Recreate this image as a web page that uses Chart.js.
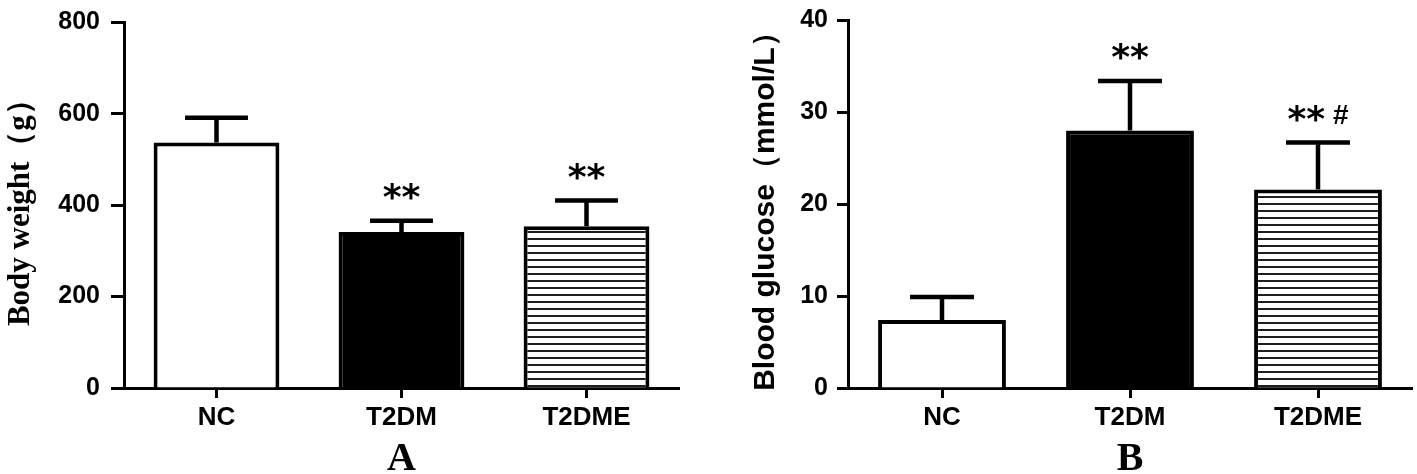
<!DOCTYPE html>
<html>
<head>
<meta charset="utf-8">
<script src="https://cdn.jsdelivr.net/npm/chart.js@4.4.1/dist/chart.umd.min.js"></script>
<style>
  html, body { margin: 0; padding: 0; background: #fff; }
  #wrap { position: relative; width: 1417px; height: 474px; overflow: hidden; }
  #chartA { position: absolute; left: 0; top: 0; }
  #chartB { position: absolute; left: 700px; top: 0; }
</style>
</head>
<body>
<div id="wrap">
  <canvas id="chartA" width="700" height="474"></canvas>
  <canvas id="chartB" width="717" height="474"></canvas>
</div>
<script>
// groups on the x axis
const groups = ['NC', 'T2DM', 'T2DME'];

// panel A - body weight (g), mean and SD
const weightMean = [537, 341, 354];
const weightSD = [54, 25, 56];
const weightMarks = ['', '**', '**'];
const weightTicks = [0, 200, 400, 600, 800];

// panel B - blood glucose (mmol/L), mean and SD
const glucoseMean = [7.4, 28.0, 21.6];
const glucoseSD = [2.5, 5.4, 5.1];
const glucoseMarks = ['', '**', '** #'];
const glucoseTicks = [0, 10, 20, 30, 40];

Chart.defaults.color = '#000';

// horizontal line fill for the T2DME bar
function stripes(canvasId) {
    const c = document.createElement('canvas');
    c.width = 8;
    c.height = 7;
    const g = c.getContext('2d');
    g.fillStyle = '#fff';
    g.fillRect(0, 0, 8, 7);
    g.fillStyle = '#1e1e1e';
    g.fillRect(0, 0, 8, 2);
    return document.getElementById(canvasId).getContext('2d').createPattern(c, 'repeat');
}

// upper error bars plus the significance marks above them
const errorBars = {
    id: 'errorBars',
    afterDatasetsDraw(chart, args, opts) {
        const ctx = chart.ctx;
        const yScale = chart.scales.y;
        const bars = chart.getDatasetMeta(0).data;
        ctx.save();
        ctx.strokeStyle = '#000';
        ctx.fillStyle = '#000';
        ctx.lineWidth = 4.5;
        bars.forEach((bar, i) => {
            const top = yScale.getPixelForValue(opts.mean[i] + opts.sd[i]);
            const half = bar.width / 4;
            ctx.beginPath();
            ctx.moveTo(bar.x, bar.y);
            ctx.lineTo(bar.x, top);
            ctx.moveTo(bar.x - half, top);
            ctx.lineTo(bar.x + half, top);
            ctx.stroke();

            const mark = opts.marks[i];
            if (!mark) return;
            const parts = mark.split(' ');
            const starFont = 'bold 36px "DejaVu Sans"';
            const hashFont = 'bold 28px "Liberation Sans"';
            ctx.font = starFont;
            const wStars = ctx.measureText(parts[0]).width;
            let wHash = 0;
            const gap = 8;
            if (parts[1]) {
                ctx.font = hashFont;
                wHash = ctx.measureText(parts[1]).width + gap;
            }
            let x = bar.x - (wStars + wHash) / 2;
            ctx.textAlign = 'left';
            ctx.textBaseline = 'alphabetic';
            ctx.font = starFont;
            ctx.fillText(parts[0], x, top - 12);
            if (parts[1]) {
                ctx.font = hashFont;
                ctx.fillText(parts[1], x + wStars + gap, top - 19);
            }
        });
        ctx.restore();
    }
};

function renderPanel(canvasId, cfg) {
    const fills = ['#fff', '#000', stripes(canvasId)];
    new Chart(document.getElementById(canvasId), {
        type: 'bar',
        data: {
            labels: groups,
            datasets: [{
                data: cfg.mean,
                backgroundColor: fills,
                borderColor: '#000',
                borderWidth: 4,
                categoryPercentage: 1,
                barPercentage: 0.68,
            }],
        },
        plugins: [errorBars],
        options: {
            responsive: false,
            animation: false,
            events: [],
            layout: { padding: cfg.padding },
            plugins: {
                legend: { display: false },
                tooltip: { enabled: false },
                errorBars: { mean: cfg.mean, sd: cfg.sd, marks: cfg.marks },
            },
            scales: {
                x: {
                    offset: true,
                    grid: {
                        offset: false,
                        drawOnChartArea: false,
                        drawTicks: true,
                        tickLength: 10,
                        tickWidth: 3,
                        tickColor: '#000',
                    },
                    border: { display: true, color: '#000', width: 3 },
                    ticks: {
                        padding: 4,
                        font: { family: '"Liberation Sans", Arial', size: 26, weight: 'bold' },
                    },
                    title: {
                        display: true,
                        text: cfg.letter,
                        padding: 0,
                        font: { family: '"Liberation Serif", "Times New Roman"', size: 40, weight: 'bold', lineHeight: 0.7 },
                    },
                    afterFit(scale) { scale.height = 86; },
                },
                y: {
                    min: cfg.ticks[0],
                    max: cfg.ticks[cfg.ticks.length - 1],
                    afterBuildTicks(scale) { scale.ticks = cfg.ticks.map(v => ({ value: v })); },
                    grid: {
                        drawOnChartArea: false,
                        drawTicks: true,
                        tickLength: cfg.tickLength,
                        tickWidth: 3,
                        tickColor: '#000',
                    },
                    border: { display: true, color: '#000', width: 3 },
                    ticks: {
                        padding: cfg.tickPad,
                        font: { family: '"Liberation Sans", Arial', size: 25, weight: 'bold', lineHeight: 0.9 },
                    },
                    title: {
                        display: true,
                        text: cfg.title,
                        padding: { top: cfg.titlePad, bottom: 0 },
                        font: cfg.titleFont,
                    },
                    afterFit(scale) { scale.width = cfg.axisLeft; },
                },
            },
        },
    });
}

document.addEventListener('DOMContentLoaded', () => {
    renderPanel('chartA', {
        mean: weightMean, sd: weightSD, marks: weightMarks, ticks: weightTicks,
        letter: 'A',
        title: 'Body weight（g）',
        titleFont: { family: '"Liberation Serif", "Times New Roman"', size: 31, weight: 'bold', lineHeight: 1.2 },
        titlePad: 2,
        axisLeft: 124,
        tickLength: 13,
        tickPad: 11,
        padding: { top: 20, right: 21, left: 0, bottom: 0 },
    });
    renderPanel('chartB', {
        mean: glucoseMean, sd: glucoseSD, marks: glucoseMarks, ticks: glucoseTicks,
        letter: 'B',
        title: 'Blood glucose（mmol/L）',
        titleFont: { family: '"Liberation Sans", Arial', size: 30, weight: 'bold', lineHeight: 1.2 },
        titlePad: 48,
        axisLeft: 148,
        tickLength: 11,
        tickPad: 9,
        padding: { top: 12, right: 5, left: 0, bottom: 0 },
    });
});
</script>
</body>
</html>
